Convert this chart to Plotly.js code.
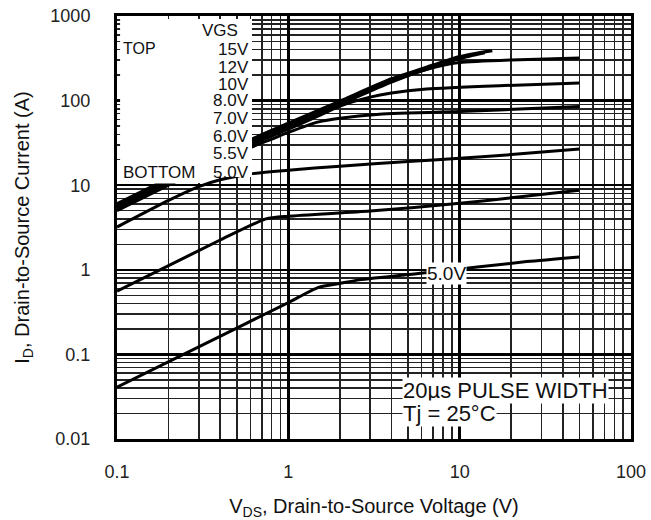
<!DOCTYPE html>
<html>
<head>
<meta charset="utf-8">
<script src="https://cdn.plot.ly/plotly-3.0.1.min.js"></script>
<style>html,body{margin:0;padding:0;background:#fff;}#chart{width:651px;height:520px;}</style>
</head>
<body>
<div id="chart"></div>
<script>
// ---- data (VDS in V, ID in A) ----
const vgsLabels = ['15V', '12V', '10V', '8.0V', '7.0V', '6.0V', '5.5V', '5.0V'];

const vds15 = [0.1, 0.2, 0.5, 1, 2, 4, 7, 10, 15.5];
const id15  = [6.0, 12, 29, 54, 98, 180, 262, 330, 390];

const vds12 = [0.1, 0.2, 0.5, 1, 2, 4, 7, 10, 14];
const id12  = [5.7, 11.3, 27.5, 51, 93, 172, 250, 316, 370];

const vds10 = [0.1, 0.2, 0.5, 1, 2, 4, 6, 8, 10, 20, 50];
const id10  = [5.5, 11, 26.5, 49, 90, 165, 225, 262, 282, 302, 318];

const vds8 = [0.1, 0.2, 0.5, 1, 1.5, 2, 3, 4, 6.4, 17, 50];
const id8  = [5.3, 10.6, 25.5, 46, 66, 86, 110, 123, 137, 150, 161];

const vds7 = [0.1, 0.2, 0.5, 0.8, 1, 1.5, 2, 3.4, 10, 17, 50];
const id7  = [5.0, 10, 24, 35, 42, 56, 62, 69, 74.5, 77.5, 85];

const vds6 = [0.1, 0.2, 0.3, 0.4, 0.6, 1, 2, 5, 10, 20, 50];
const id6  = [3.2, 6.6, 9.6, 11.6, 13.6, 15, 16.8, 19, 20.8, 23, 26.7];

const vds55 = [0.1, 0.2, 0.4, 0.74, 1, 3, 10, 20, 50];
const id55  = [0.56, 1.12, 2.25, 4.0, 4.3, 4.95, 6.1, 7.1, 8.7];

const vds5 = [0.1, 0.5, 1, 1.5, 2, 2.6, 6.6, 24.6, 50];
const id5  = [0.041, 0.205, 0.41, 0.62, 0.69, 0.76, 0.93, 1.25, 1.42];

const xTickVals = [0.1, 1, 10, 100];
const xTickText = ['0.1', '1', '10', '100'];
const yTickVals = [0.01, 0.1, 1, 10, 100, 1000];
const yTickText = ['0.01', '0.1', '1', '10', '100', '1000'];

const curveLabel = '5.0V';
const noteLines = ['20µs PULSE WIDTH', 'Tj = 25°C'];

// ---- build chart ----
const FONT = 'Liberation Sans, Arial, Helvetica, sans-serif';
const series = [
  [vds15, id15, 3.5], [vds12, id12, 3.5], [vds10, id10, 3],
  [vds8, id8, 3], [vds7, id7, 3], [vds6, id6, 3], [vds55, id55, 3], [vds5, id5, 3]
];
const traces = series.map((s, i) => ({
  x: s[0], y: s[1], type: 'scatter', mode: 'lines', name: vgsLabels[i],
  line: {color: '#000', width: s[2], shape: 'spline', smoothing: 0.6},
  showlegend: false, hoverinfo: 'skip'
}));

const W = 651, H = 520, L = 117, R = 20, T = 16, B = 81;
const pw = W - L - R, ph = H - T - B;
const px = X => (X - L) / pw;
const py = Y => (H - B - Y) / ph;

const annotations = [];
const legendY = [49.3, 67.3, 84, 100.7, 118.3, 136, 153.3, 172.3];
annotations.push({xref: 'paper', yref: 'paper', x: px(240), y: py(30.7), xanchor: 'right', yanchor: 'middle',
  text: 'VGS', showarrow: false, font: {family: FONT, size: 17, color: '#111'}});
vgsLabels.forEach((lab, i) => annotations.push({xref: 'paper', yref: 'paper', x: px(251), y: py(legendY[i]),
  xanchor: 'right', yanchor: 'middle', text: lab, showarrow: false, font: {family: FONT, size: 17, color: '#111'}}));
annotations.push({xref: 'paper', yref: 'paper', x: px(121), y: py(48.3), xanchor: 'left', yanchor: 'middle',
  text: 'TOP', showarrow: false, font: {family: FONT, size: 16, color: '#111'}});
annotations.push({xref: 'paper', yref: 'paper', x: px(121), y: py(172.3), xanchor: 'left', yanchor: 'middle',
  text: 'BOTTOM', showarrow: false, font: {family: FONT, size: 17, color: '#111'}, bgcolor: '#fff'});
annotations.push({xref: 'paper', yref: 'paper', x: px(446), y: py(273), xanchor: 'center', yanchor: 'middle',
  text: curveLabel, showarrow: false, font: {family: FONT, size: 19, color: '#111'}, bgcolor: '#fff', borderpad: 0});
annotations.push({xref: 'paper', yref: 'paper', x: px(402), y: py(390), xanchor: 'left', yanchor: 'middle',
  text: noteLines[0], showarrow: false, font: {family: FONT, size: 22, color: '#111'}, bgcolor: '#fff', borderpad: 0});
annotations.push({xref: 'paper', yref: 'paper', x: px(402), y: py(413), xanchor: 'left', yanchor: 'middle',
  text: noteLines[1], showarrow: false, font: {family: FONT, size: 22, color: '#111'}, bgcolor: '#fff', borderpad: 0});

const shapes = [
  {type: 'rect', xref: 'paper', yref: 'paper', x0: 0.006, x1: px(252), y0: py(177), y1: 0.993,
   fillcolor: '#fff', line: {width: 0}, layer: 'above'},
  {type: 'rect', xref: 'paper', yref: 'paper', x0: 0.006, x1: px(205), y0: py(183), y1: py(176),
   fillcolor: '#fff', line: {width: 0}, layer: 'above'}
];

const axisCommon = {
  type: 'log', showline: true, mirror: true, linecolor: '#000', linewidth: 3,
  showgrid: true, gridcolor: '#000', gridwidth: 2.5, zeroline: false, ticks: '',
  tickfont: {family: FONT, size: 18, color: '#222'},
  minor: {dtick: 'D1', showgrid: true, gridcolor: '#222', gridwidth: 1.5, ticks: ''}
};

const layout = {
  width: W, height: H, margin: {l: L, r: R, t: T, b: B},
  paper_bgcolor: '#fff', plot_bgcolor: '#fff', showlegend: false,
  font: {family: FONT, color: '#111'},
  xaxis: Object.assign({}, axisCommon, {
    range: [-1, 2], tickmode: 'array', tickvals: xTickVals, ticktext: xTickText,
    ticklabelstandoff: 14,
    title: {text: 'V<sub>DS</sub>, Drain-to-Source Voltage (V)', font: {family: FONT, size: 20, color: '#111'}, standoff: 19}
  }),
  yaxis: Object.assign({}, axisCommon, {
    range: [-2, 3], tickmode: 'array', tickvals: yTickVals, ticktext: yTickText,
    ticklabelstandoff: 20,
    title: {text: 'I<sub>D</sub>, Drain-to-Source Current (A)', font: {family: FONT, size: 20, color: '#111'}, standoff: 16}
  }),
  annotations: annotations,
  shapes: shapes
};

Plotly.newPlot('chart', traces, layout, {staticPlot: true, displayModeBar: false});
</script>
</body>
</html>
